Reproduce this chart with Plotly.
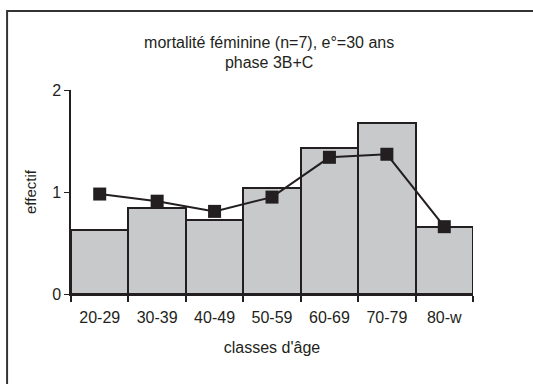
import plotly.graph_objects as go

# classes d'âge et effectifs
classes = ["20-29", "30-39", "40-49", "50-59", "60-69", "70-79", "80-w"]
effectif_obs = [0.63, 0.84, 0.73, 1.04, 1.43, 1.68, 0.66]
effectif_mod = [0.98, 0.91, 0.81, 0.95, 1.34, 1.37, 0.66]

dark = "#231f20"

fig = go.Figure()
fig.add_trace(go.Bar(x=classes, y=effectif_obs, width=1,
                     marker=dict(color="#c8c9cb", line=dict(color=dark, width=2))))
fig.add_trace(go.Scatter(x=classes, y=effectif_mod, mode="lines+markers",
                         line=dict(color=dark, width=2),
                         marker=dict(symbol="square", size=13, color=dark)))

fig.update_layout(
    width=533, height=384,
    margin=dict(l=71, r=60, t=90, b=90, autoexpand=False),
    paper_bgcolor="white", plot_bgcolor="white",
    showlegend=False,
    bargap=0,
    font=dict(family="Liberation Sans, Arial", size=16, color="#231f20"),
    title=dict(text="mortalité féminine (n=7), e°=30 ans<br>phase 3B+C",
               x=0.505, xanchor="center", y=0.876, yanchor="top",
               font=dict(size=16)),
    # cadre du graphique (bords gauche et haut seulement visibles)
    shapes=[dict(type="path", xref="paper", yref="paper",
                 path="M -0.159,-0.5 L -0.159,1.387 L 1.3,1.387",
                 line=dict(color="#333333", width=2))],
)
fig.update_xaxes(showline=True, linecolor=dark, linewidth=2,
                 ticks="outside", tickson="boundaries", ticklen=6,
                 tickcolor=dark, tickwidth=1.5, showgrid=False,
                 tickfont=dict(size=16), ticklabelstandoff=8, automargin=False,
                 title=dict(text="classes d'âge", font=dict(size=16), standoff=17))
fig.update_yaxes(range=[0, 2], tickvals=[0, 1, 2], showline=True,
                 linecolor=dark, linewidth=1.5, ticks="outside", ticklen=5,
                 tickcolor=dark, showgrid=False, zeroline=False,
                 tickfont=dict(size=16), automargin=False,
                 title=dict(text="effectif", font=dict(size=15), standoff=12))

fig.write_html("out.html", config={"displayModeBar": False},
               post_script="document.body.style.margin='0'; document.body.style.overflow='hidden';")
